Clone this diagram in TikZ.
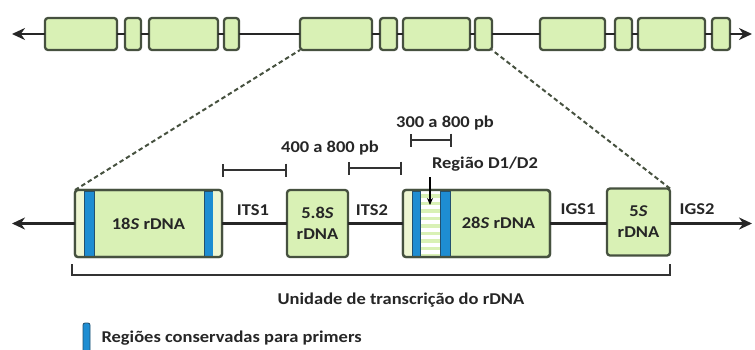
\documentclass[tikz,border=0pt]{standalone}
\usepackage{fontspec}
\setmainfont{Carlito}[FakeStretch=1.12]
\usetikzlibrary{arrows.meta,calc}
\definecolor{boxfill}{HTML}{D9F1B5}
\definecolor{boxedge}{HTML}{46513F}
\definecolor{stripfill}{HTML}{EEF6D2}
\definecolor{bandblue}{HTML}{1E8DD2}
\definecolor{bandedge}{HTML}{22506F}
\definecolor{txt}{HTML}{262626}
\begin{document}
\begin{tikzpicture}[x=1pt, y=-1pt, >={Stealth[length=13pt,width=12pt]},
	font=\fontsize{16.5}{21}\selectfont\bfseries, text=txt,
	exon/.style={draw=boxedge, fill=boxfill, line width=2.3pt, rounded corners=3pt,
		inner sep=0pt, outer sep=0pt, minimum height=32pt},
	gene/.style={exon, minimum height=67pt, align=center},
	frame/.style={draw=boxedge, line width=2.3pt, rounded corners=3pt},
	chrom/.style={line width=2.6pt, draw=black!85},
	band/.style={fill=bandblue, draw=bandedge, line width=.8pt},
	span/.style={line width=1.8pt, draw=black!80, {Bar[width=13pt]}-{Bar[width=13pt]}},
	zoomline/.style={line width=2pt, draw=boxedge, dash pattern=on 4.5pt off 3pt}]
	\useasboundingbox (0,0) rectangle (755,349);
	% cromossomo
	\node[exon, minimum width=72pt] (t1) at (81,34) {};
	\node[exon, minimum width=16pt] (t2) at (133,34) {};
	\node[exon, minimum width=69pt] (t3) at (183.5,34) {};
	\node[exon, minimum width=15pt] (t4) at (231.5,34) {};
	\node[exon, minimum width=72pt] (t5) at (336,34) {};
	\node[exon, minimum width=17pt] (t6) at (388.5,34) {};
	\node[exon, minimum width=67pt] (t7) at (436.5,34) {};
	\node[exon, minimum width=17pt] (t8) at (483.5,34) {};
	\node[exon, minimum width=65pt] (t9) at (572.5,34) {};
	\node[exon, minimum width=17pt] (t10) at (623.5,34) {};
	\node[exon, minimum width=67pt] (t11) at (671.5,34) {};
	\node[exon, minimum width=18pt] (t12) at (721,34) {};
	\coordinate (tl) at (12,34);
	\coordinate (tr) at (752,34);
	\draw[chrom,->] (t1) -- (tl);
	\draw[chrom] (t1) -- (t2) (t2) -- (t3) (t3) -- (t4) (t4) -- (t5) (t5) -- (t6)
		(t6) -- (t7) (t7) -- (t8) (t8) -- (t9) (t9) -- (t10) (t10) -- (t11) (t11) -- (t12);
	\draw[chrom,->] (t12) -- (tr);
	% unidade ampliada
	\node[gene, minimum width=147pt] (b18) at (148.5,223.5) {18\textit{S} rDNA};
	\node[gene, minimum width=61pt] (b58) at (317.5,223.5) {5.8\textit{S}\\rDNA};
	\node[gene, minimum width=147pt] (b28) at (476.5,223.5) {};
	\node[gene, minimum width=63pt] (b5) at (638.5,222) {5\textit{S}\\rDNA};
	\node (l28) at ($(b28.center)+(22,-1)$) {28\textit{S} rDNA};
	% faixas conservadas
	\fill[stripfill] ($(b18.north west)+(1.1,1.1)$) rectangle ($(b18.south west)+(9,-1.1)$);
	\filldraw[band] ($(b18.north west)+(9,1.1)$) rectangle ($(b18.south west)+(19,-1.1)$);
	\filldraw[band] ($(b18.north east)+(-18,1.1)$) rectangle ($(b18.south east)+(-9,-1.1)$);
	\fill[stripfill] ($(b18.north east)+(-9,1.1)$) rectangle ($(b18.south east)+(-1.1,-1.1)$);
	\draw[frame] (b18.north west) rectangle (b18.south east);
	\fill[stripfill] ($(b28.north west)+(1.1,1.1)$) rectangle ($(b28.south west)+(9,-1.1)$);
	\fill[white] ($(b28.north west)+(17,1.1)$) rectangle ($(b28.south west)+(37,-1.1)$);
	\foreach \k in {0,...,8}
		\fill[boxfill] ($(b28.north west)+(17,4+7.5*\k)$) rectangle ++(20,3.5);
	\filldraw[band] ($(b28.north west)+(9,1.1)$) rectangle ($(b28.south west)+(17,-1.1)$);
	\filldraw[band] ($(b28.north west)+(37,1.1)$) rectangle ($(b28.south west)+(47,-1.1)$);
	\draw[frame] (b28.north west) rectangle (b28.south east);
	% ligacoes
	\coordinate (bl) at (12,223.5);
	\coordinate (br) at (752,223.5);
	\draw[chrom,->] (b18) -- (bl);
	\draw[chrom] (b18) -- (b58) (b58) -- (b28) (b28.west) -- (b58.east |- b28.west);
	\draw[chrom] (b28.east) -- (b28.east -| b5.west);
	\draw[chrom,->] (b5.east |- br) -- (br);
	\node (its1) at (253,210) {ITS1};
	\node (its2) at (372,210) {ITS2};
	\node (igs1) at (578,209) {IGS1};
	\node (igs2) at (697,209) {IGS2};
	% ampliacao
	\draw[zoomline] (b18.north west) -- (t5.south west);
	\draw[zoomline] (b5.north east) -- (t8.south east);
	% tamanhos
	\coordinate (s1a) at (222,170); \coordinate (s1b) at (287,170);
	\coordinate (s2a) at (348,168); \coordinate (s2b) at (402,168);
	\coordinate (s3a) at (410,140); \coordinate (s3b) at (452,140);
	\draw[span] (s1a) -- (s1b);
	\draw[span] (s2a) -- (s2b);
	\draw[span] (s3a) -- (s3b);
	\node (pb1) at (330,148) {400 a 800 pb};
	\node (pb2) at (445,123) {300 a 800 pb};
	\node (dreg) at (485,164) {Região D1/D2};
	\coordinate (d1) at (430,177);
	\coordinate (d2) at (430,205);
	\draw[line width=1.2pt, -{Stealth[length=7pt,width=6pt]}] (d1) -- (d2);
	% unidade de transcricao
	\coordinate (ua) at (72,264);
	\coordinate (ub) at (670,264);
	\draw[line width=1.8pt, draw=black!80] (ua) |- (ub |- 0,275) -- (ub);
	\node (unid) at (401,300) {Unidade de transcrição do rDNA};
	% legenda
	\filldraw[band, rounded corners=2pt] (83,323) rectangle (90,354);
	\node[anchor=west] (leg) at (98,338) {Regiões conservadas para primers};
\end{tikzpicture}
\end{document}
